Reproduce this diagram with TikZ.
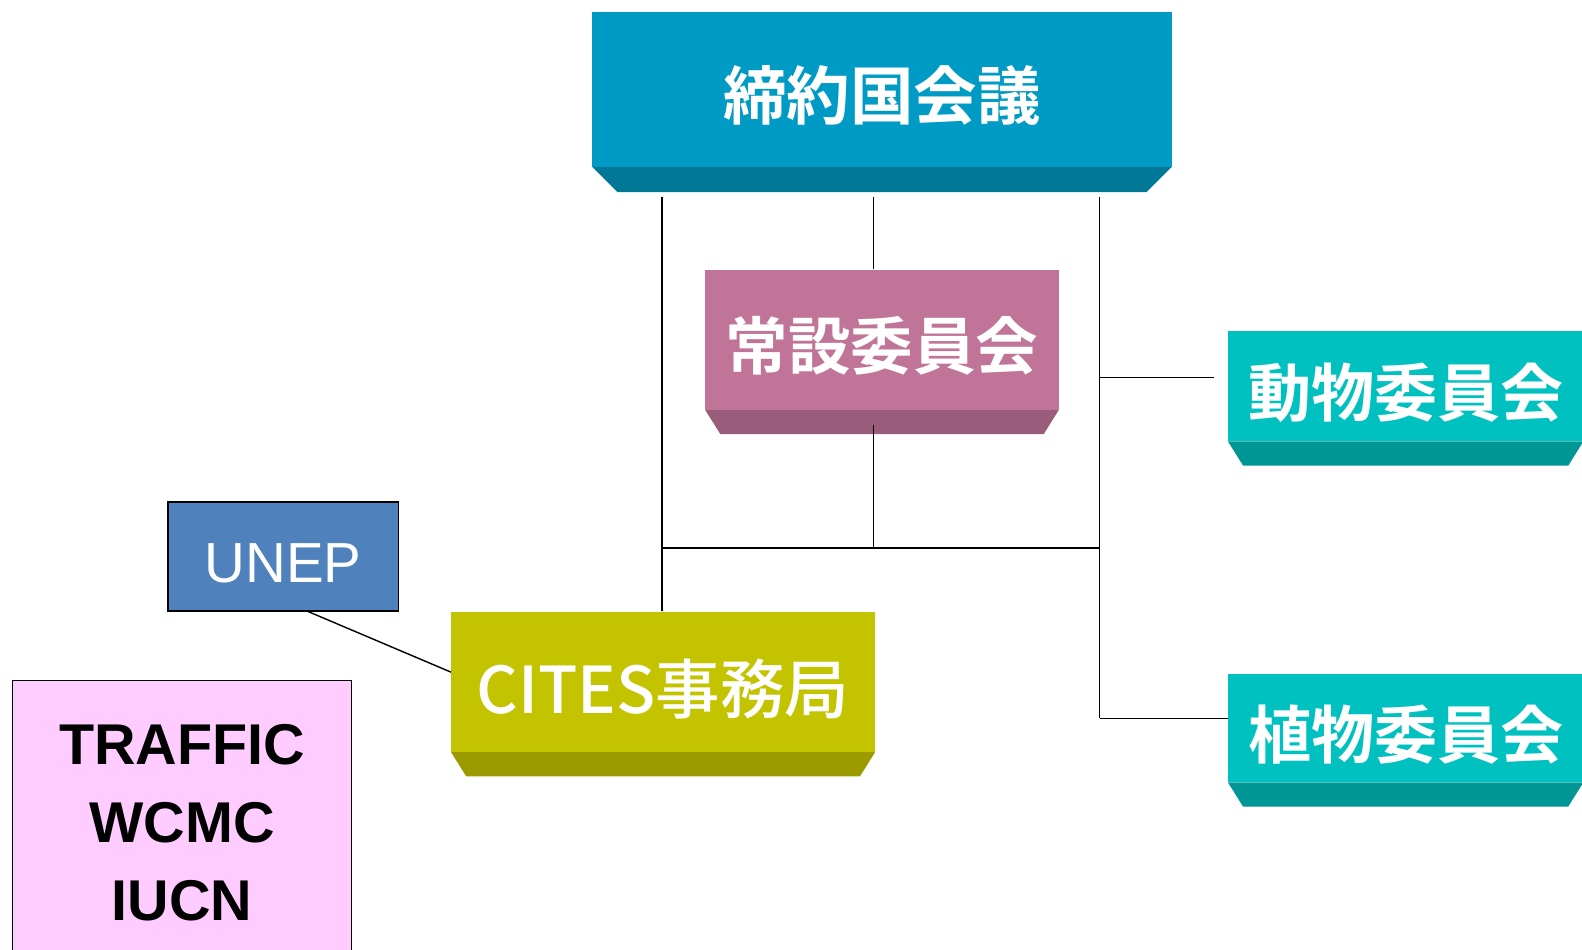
\documentclass[tikz,border=0pt]{standalone}
\usepackage{fontspec}
\setmainfont{Liberation Sans}
\newfontfamily\cjk{Noto Sans CJK JP}[BoldFont={Noto Sans CJK JP Bold}]
\newfontfamily\cjkm{Noto Sans CJK JP Medium}
\definecolor{cTop}{RGB}{0,155,196}
\definecolor{cTopD}{RGB}{0,120,150}
\definecolor{cPink}{RGB}{192,116,152}
\definecolor{cPinkD}{RGB}{153,92,122}
\definecolor{cTeal}{RGB}{0,192,192}
\definecolor{cTealD}{RGB}{0,150,150}
\definecolor{cOlive}{RGB}{195,195,0}
\definecolor{cOliveD}{RGB}{155,155,0}
\definecolor{cBlue}{RGB}{79,129,189}
\definecolor{cLilac}{RGB}{255,204,255}
\tikzset{
  face/.style={rectangle, inner sep=0pt, anchor=north west, text=white, text height=60pt, text depth=0pt},
  conn/.style={draw=black, line width=1.4pt},
  flatbox/.style={rectangle, draw=black, line width=1.2pt, inner sep=0pt, anchor=north west}
}
\begin{document}
\begin{tikzpicture}[x=1pt,y=-1pt]
\useasboundingbox (0,0) rectangle (1568,941);
% top box
\node[face, fill=cTop, minimum width=574pt, minimum height=153pt, font=\cjk\bfseries\fontsize{63}{70}\selectfont] (kaigi) at (587,12) {締約国会議};
\fill[cTopD] (kaigi.south west) -- ++(25,25) -- ([shift={(-25pt,-25pt)}]kaigi.south east) -- (kaigi.south east) -- cycle;
% standing committee
\node[face, fill=cPink, minimum width=350pt, minimum height=139pt, font=\cjk\bfseries\fontsize{62}{70}\selectfont] (jousetsu) at (699,267) {常設委員会};
\fill[cPinkD] (jousetsu.south west) -- ++(15,24) -- ([shift={(-15pt,-24pt)}]jousetsu.south east) -- (jousetsu.south east) -- cycle;
% animals committee
\node[face, fill=cTeal, minimum width=352pt, minimum height=109pt, font=\cjk\bfseries\fontsize{62.5}{70}\selectfont] (doubutsu) at (1217,328) {動物委員会};
\fill[cTealD] (doubutsu.south west) -- ++(15,24) -- ([shift={(-15pt,-24pt)}]doubutsu.south east) -- (doubutsu.south east) -- cycle;
% plants committee
\node[face, fill=cTeal, minimum width=352pt, minimum height=107pt, font=\cjk\bfseries\fontsize{62.5}{70}\selectfont] (shokubutsu) at (1217,668) {植物委員会};
\fill[cTealD] (shokubutsu.south west) -- ++(15,24) -- ([shift={(-15pt,-24pt)}]shokubutsu.south east) -- (shokubutsu.south east) -- cycle;
% secretariat
\node[face, fill=cOlive, minimum width=420pt, minimum height=139pt, text height=62pt, font=\cjkm\fontsize{64}{70}\selectfont] (cites) at (447,606) {CITES事務局};
\fill[cOliveD] (cites.south west) -- ++(15,24) -- ([shift={(-15pt,-24pt)}]cites.south east) -- (cites.south east) -- cycle;
% UNEP
\node[flatbox, fill=cBlue, text=white, minimum width=228pt, minimum height=108pt, text height=52pt, text depth=0pt, font=\fontsize{56}{60}\selectfont] (unep) at (166,497) {UNEP};
% TRAFFIC
\node[flatbox, fill=cLilac, text=black, minimum width=336pt, minimum height=282pt, align=center, font=\bfseries\fontsize{57}{77}\selectfont] (traffic) at (12,674) {TRAFFIC\\WCMC\\IUCN};
% junction coordinates
\coordinate (t1) at (656,195);
\coordinate (t2) at (866,195);
\coordinate (t3) at (1090,195);
\coordinate (s1) at (866,421);
\coordinate (j1) at (656,543);
\coordinate (j2) at (866,543);
\coordinate (j3) at (1090,543);
\coordinate (j4) at (1090,374);
\coordinate (j5) at (1090,712);
\coordinate (e1) at (1203,374);
% connectors
\draw[conn] (t1) -- (t1 |- cites.north);
\draw[conn] (t2) -- (t2 |- jousetsu.north);
\draw[conn] (t3) -- (j5);
\draw[conn] (s1) -- (j2);
\draw[conn] (j1) -- (j3);
\draw[conn] (j4) -- (e1);
\draw[conn] (j5) -- (j5 -| shokubutsu.west);
\draw[conn] ([xshift=25pt]unep.south) -- ([yshift=9.5pt]cites.west);
\end{tikzpicture}
\end{document}
